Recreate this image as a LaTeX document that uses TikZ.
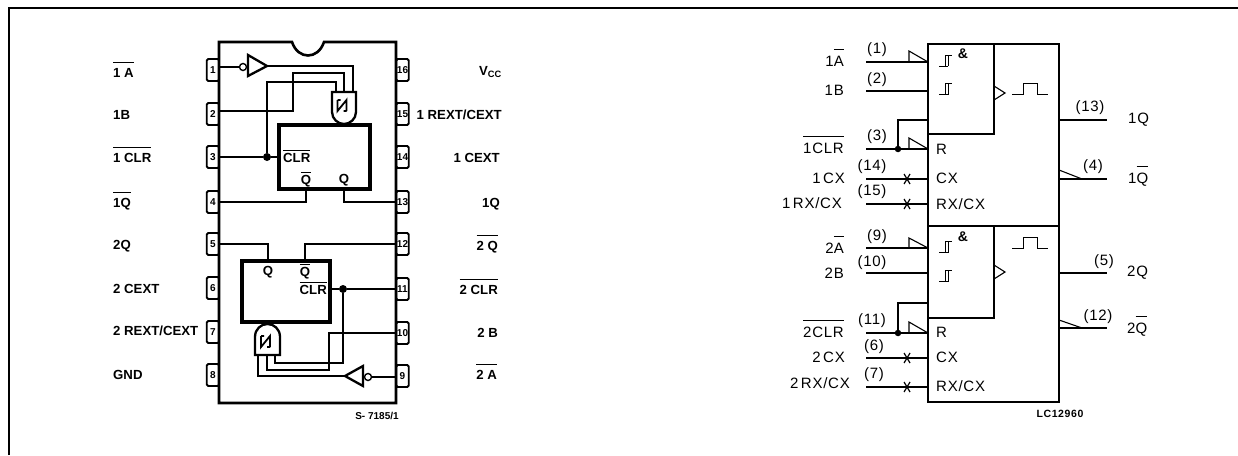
\documentclass[tikz,border=0pt]{standalone}
\usepackage{fontspec}
\setmainfont{Liberation Sans}
\newfontfamily\symfont[LetterSpace=5]{Liberation Sans}
\newfontfamily\tagfont[LetterSpace=6]{Liberation Sans}
\usepackage{tikz}
\newcommand{\ovl}[1]{$\smash{\overline{\hbox{\rule{0pt}{1.05em}#1}}}\vphantom{\hbox{X}}$}
\newcommand{\ovltight}[1]{$\smash{\overline{\hbox{\rule{0pt}{0.85em}#1}}}\vphantom{\hbox{X}}$}
\tikzset{
	pinbox/.style={draw,line width=1.9pt,rounded corners=1.5pt,minimum width=12.5pt,minimum height=22pt,inner sep=0pt,outer sep=0pt,font=\bfseries\fontsize{10}{11}\selectfont},
	pinlabel/.style={inner sep=0pt,font=\bfseries\fontsize{13.2}{15}\selectfont},
	ubox/.style={draw,line width=3.2pt,inner sep=0pt,outer sep=0pt},
	wire/.style={line width=1.3pt},
	gatel/.style={line width=2.3pt,fill=white},
	joint/.style={circle,fill=black,inner sep=0pt,minimum size=#1},
	bubble/.style={circle,draw,line width=1.4pt,fill=white,inner sep=0pt,minimum size=7pt},
	symlabel/.style={inner sep=0pt,font=\symfont\fontsize{15}{17}\selectfont},
	thin wire/.style={line width=1.1pt},
	hair wire/.style={line width=0.9pt},
	hyst/.pic={\draw[hair wire] (-7,5.5) -- (2,5.5) (-1,5.5) -- (-1,-5.5) -- (6,-5.5) (2,5.5) -- (2,-5.5);},
	xmark/.pic={\draw[line width=1.2pt] (-3,-5) -- (3,5) (3,-5) -- (-3,5);},
	pulse/.pic={\draw[hair wire] (-18,5.5) -- (-7,5.5) -- (-7,-5.5) -- (7,-5.5) -- (7,5.5) -- (18,5.5);},
	zglyph/.pic={\draw[line width=1.8pt] (-4.5,-5.5) -- (-4.5,5.5) -- (4.5,-5.5) -- (4.5,5.5) (-4.5,-5.5) -- (-1.5,-5.5) (4.5,5.5) -- (1.5,5.5);}
}
\begin{document}
\begin{tikzpicture}[x=1pt,y=-1pt]
\useasboundingbox (0,0) rectangle (1238,455);
\draw[line width=2.6pt] (9,455) -- (9,8) -- (1238,8);

\foreach \n/\y in {1/70,2/114,3/157,4/202,5/244,6/288,7/332,8/375}
	\node[pinbox] (p\n) at (213,\y) {\n};
\foreach \n/\y in {16/70,15/114,14/157,13/202,12/244,11/289,10/333,9/376}
	\node[pinbox] (p\n) at (402.5,\y) {\n};
\draw[line width=2.6pt,fill=white] (219,403) -- (219,42) -- (292,42) .. controls (298,60) and (318,60) .. (324,42) -- (396,42) -- (396,403) -- cycle;

\foreach \t/\y in {{\ovl{1 A}}/73,1B/115,{\ovl{1 CLR}}/158,{\ovl{1Q}}/203,2Q/246,2 CEXT/289,{2 REXT/CEXT}/331,GND/375}
	\node[pinlabel,anchor=west] at (113,\y) {\t};
\foreach \t/\x/\y in {{V\textsubscript{CC}}/502/72,{1 REXT/CEXT}/502/115,1 CEXT/500/158,1Q/500/204,{\ovl{2 Q}}/498/246,{\ovl{2 CLR}}/498/290,2 B/498/333,{\ovl{2 A}}/497/375}
	\node[pinlabel,anchor=east] at (\x,\y) {\t};
\node[inner sep=0pt,font=\bfseries\fontsize{10}{11}\selectfont] (chip) at (377,416) {S- 7185/1};

\node[ubox,minimum width=91pt,minimum height=64pt] (u1) at (324.5,157) {};
\node[ubox,minimum width=88pt,minimum height=61pt] (u2) at (286,291.5) {};
\node[pinlabel,anchor=west] (clr1) at (283,158) {\ovltight{CLR}};
\node[pinlabel] (qb1) at (306,180) {\ovltight{Q}};
\node[pinlabel] (q1) at (344,180) {Q};
\node[pinlabel] (q2) at (268,272) {Q};
\node[pinlabel] (qb2) at (305,272) {\ovltight{Q}};
\node[pinlabel,anchor=east] (clr2) at (327,290) {\ovltight{CLR}};

\node[bubble] (b1) at (243,67) {};
\coordinate (t1) at (267,66);
\draw[gatel] (248,55) -- (248,76) -- (t1) -- cycle;
\coordinate (g1a) at (336,92);
\coordinate (g1b) at (344,92);
\coordinate (g1c) at (353,92);
\node[joint=8pt] (d1) at (267,157) {};
\draw[wire] ([yshift=3pt]p1.east) -- (b1);
\draw[wire] (t1) -| (g1c);
\draw[wire] ([yshift=3pt]p2.east) -| (293,73) -| (g1b);
\draw[wire] (p3.east) -- (d1) -- (u1.west |- d1);
\draw[wire] (d1) |- (336,82) -- (g1a);
\draw[wire] (p4.east) -| (qb1 |- u1.south);
\draw[wire] (q1 |- u1.south) |- (p13.west);
\draw[gatel] (332,92) -- (356,92) -- (356,112) .. controls (356,119) and (350,124) .. (344,124) .. controls (338,124) and (332,119) .. (332,112) -- cycle;
\pic at (342,105.5) {zglyph};

\node[bubble] (b2) at (368,377) {};
\coordinate (t2) at (345,376);
\draw[gatel] (363,366) -- (363,386) -- (t2) -- cycle;
\coordinate (g2a) at (258,355);
\coordinate (g2b) at (267,355);
\coordinate (g2c) at (275,355);
\node[joint=8pt] (d2) at (343,289) {};
\draw[wire] (p5.east) -| (q2 |- u2.north);
\draw[wire] (p12.west) -| (qb2 |- u2.north);
\draw[wire] (u2.east |- d2) -- (d2) -- (p11.west);
\draw[wire] (d2) |- (275,363) -- (g2c);
\draw[wire] (p10.west) -| (329,370) -| (g2b);
\draw[wire] (g2a) |- (t2);
\draw[wire] (b2) -- (p9.west |- b2);
\draw[gatel] (255,355) -- (280,355) -- (280,337) .. controls (280,329) and (274,324) .. (267.5,324) .. controls (261,324) and (255,329) .. (255,337) -- cycle;
\pic at (265.5,341.5) {zglyph};

\node[draw,line width=1.9pt,inner sep=0pt,outer sep=0pt,minimum width=131pt,minimum height=358pt] (ic) at (993.5,223) {};
\coordinate (mid) at (ic.west |- 0,226);
\draw[thin wire] (mid) -- (mid -| ic.east);
\draw[thin wire] (994,44) |- (ic.west |- 0,134);
\draw[thin wire] (994,226) |- (ic.west |- 0,318);
\draw[thin wire] (994,86) -- (1005,93) -- (994,100);
\draw[thin wire] (994,265) -- (1005,272) -- (994,279);
\pic at (1030,88.5) {pulse};
\pic at (1030,242.5) {pulse};

\foreach \n/\y in {a/62,b/91,c/149,d/179,e/204,f/248,g/273,h/333,i/358,j/387}
{
	\coordinate (in\n) at (866,\y);
	\draw[wire] (in\n) -- (in\n -| ic.west);
}
\foreach \n/\top in {a/51,c/138,f/238,h/322}
	\draw[thin wire] (in\n -| 909,0) -- (909,\top) -- (in\n -| ic.west);
\foreach \n in {d,e,i,j}
	\pic at (in\n -| 907,0) {xmark};
\node[joint=6.5pt] (d3) at (inc -| 898,0) {};
\node[joint=6.5pt] (d4) at (inh -| 898,0) {};
\draw[thin wire] (d3) |- (ic.west |- 0,120);
\draw[thin wire] (d4) |- (ic.west |- 0,303);

\foreach \n/\y in {a/120,b/179,c/273,d/328}
{
	\coordinate (out\n) at (1107,\y);
	\draw[wire] (out\n -| ic.east) -- (out\n);
}
\draw[thin wire] (ic.east |- 0,170) -- (outb -| 1082,0);
\draw[thin wire] (ic.east |- 0,320) -- (outd -| 1082,0);

\foreach \x/\y in {946/60.5,946/89,946/247,946/276}
	\pic at (\x,\y) {hyst};
\foreach \y in {54,237}
	\node[inner sep=0pt,font=\bfseries\fontsize{14}{15}\selectfont] at (963,\y) {\&};

\foreach \t/\y in {R/149,CX/178,{RX/CX}/204,R/332,CX/357,{RX/CX}/386}
	\node[symlabel,anchor=west] at (936,\y) {\t};
\foreach \t/\x/\y in {(1)/877/50,(2)/877/80,(3)/877/137,(14)/872/167,(15)/872/192,(9)/877/237,(10)/872/263,(11)/872/321,(6)/874/347,(7)/874/375,(13)/1090/108,(4)/1093/167,(5)/1104/262,(12)/1098/317}
	\node[symlabel] at (\x,\y) {\t};
\foreach \t/\x/\y in {{1\ovl{A}}/844/61,1B/844/90,{\ovl{1CLR}}/844/148,{1\,CX}/845/178,{1\,RX/CX}/842/203,{2\ovl{A}}/844/248,2B/844/273,{\ovl{2CLR}}/844/332,{2\,CX}/845/357,{2\,RX/CX}/850/383}
	\node[symlabel,anchor=east] at (\x,\y) {\t};
\foreach \t/\x/\y in {1Q/1128/120,{1\ovl{Q}}/1128/178,2Q/1127/273,{2\ovl{Q}}/1127/328}
	\node[symlabel,anchor=west] at (\x,\y) {\t};
\node[inner sep=0pt,font=\tagfont\bfseries\fontsize{10.5}{12}\selectfont] (part) at (1060,414) {LC12960};
\end{tikzpicture}
\end{document}
